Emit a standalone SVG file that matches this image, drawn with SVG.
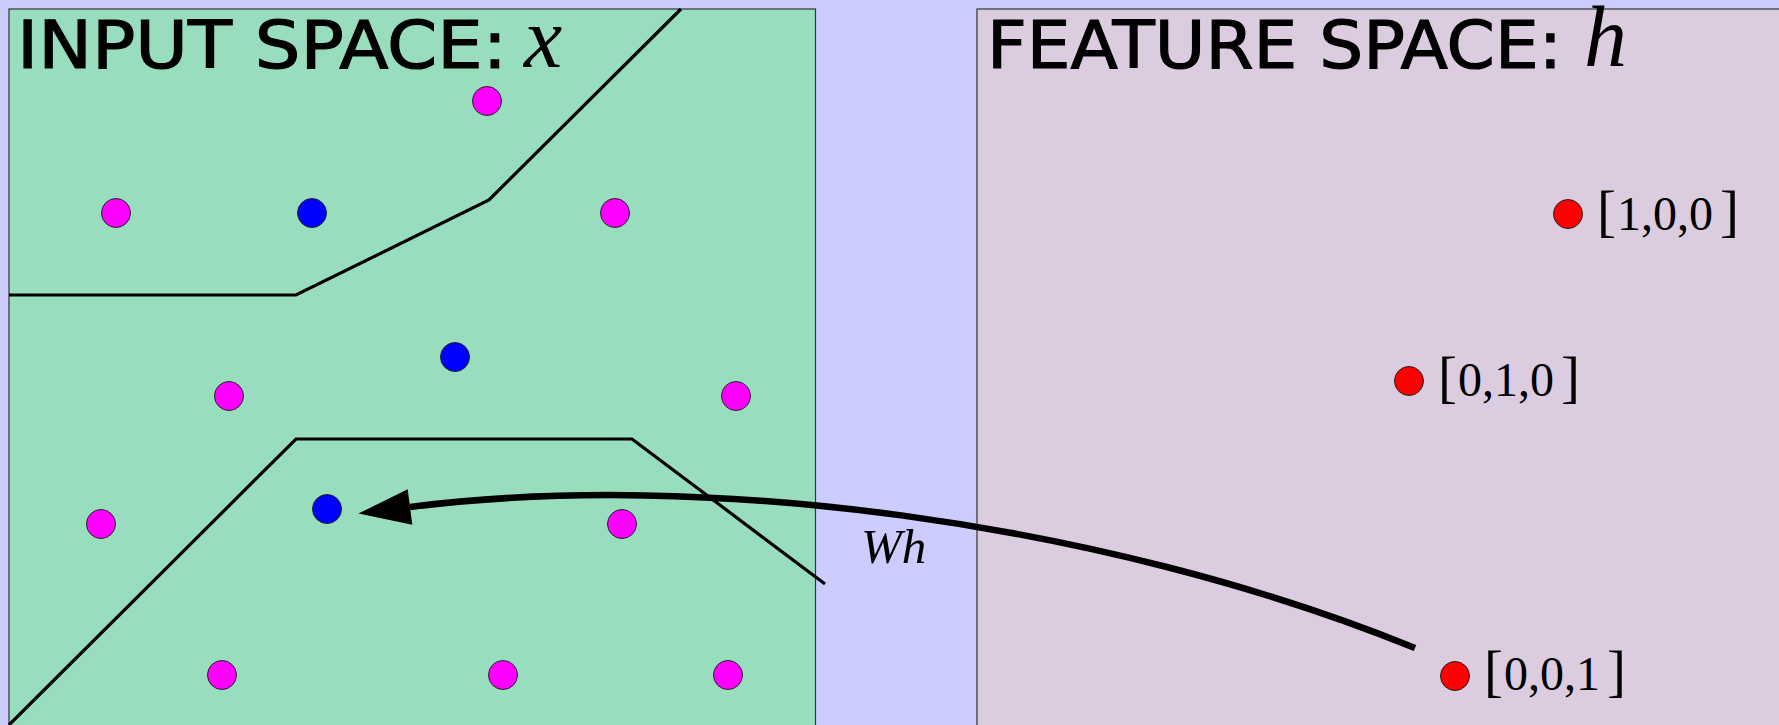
<svg xmlns="http://www.w3.org/2000/svg" width="1779" height="725" viewBox="0 0 1779 725">
  <style>
    .panel { stroke: #333; stroke-width: 1.2; }
    .title { font-family: "DejaVu Sans", "Noto Sans", sans-serif; font-size: 66px; fill: #000; stroke: #000; stroke-width: 1.2; }
    .var { font-family: "Liberation Serif", "DejaVu Serif", serif; font-style: italic; font-size: 86px; fill: #000; }
    .digits { font-family: "Liberation Serif", "DejaVu Serif", serif; font-size: 48px; fill: #000; }
    .brk { font-family: "Liberation Serif", "DejaVu Serif", serif; font-size: 57px; fill: #000; }
    .wh { font-family: "Liberation Serif", "DejaVu Serif", serif; font-style: italic; font-size: 49px; fill: #000; }
    .dot { stroke: #222; stroke-width: 1; }
    .neg { fill: #FF00FF; }
    .pos { fill: #0000FF; }
    .feat { fill: #FF0000; }
    .boundary { fill: none; stroke: #000; stroke-width: 3.2; stroke-linejoin: miter; }
    .map { fill: none; stroke: #000; stroke-width: 6.5; }
  </style>
  <defs>
    <marker id="head" markerUnits="userSpaceOnUse" markerWidth="60" markerHeight="44" viewBox="-2 -22 58 44" refX="0" refY="0" orient="auto">
      <path d="M0,-18 L52,0 L0,18 Z" fill="#000"/>
    </marker>
  </defs>

  <rect width="1779" height="725" fill="#CCCCFF"/>

  <!-- input space panel -->
  <g id="input-space">
    <rect class="panel" x="9" y="9" width="806.5" height="720" fill="#99DDBF"/>
    <text class="title" x="17" y="68" textLength="490" lengthAdjust="spacingAndGlyphs">INPUT SPACE:</text>
    <text class="var" x="524" y="67">x</text>
  </g>

  <!-- feature space panel -->
  <g id="feature-space">
    <rect class="panel" x="977" y="9" width="810" height="720" fill="#DCCCE0"/>
    <text class="title" x="987" y="68" textLength="575" lengthAdjust="spacingAndGlyphs">FEATURE SPACE:</text>
    <text class="var" x="1584" y="66">h</text>
  </g>

  <!-- decision boundaries -->
  <g id="boundaries">
    <polyline class="boundary" points="9,295 296,295 489,200 681,9"/>
    <polyline class="boundary" points="9,725 296,439 632,439 825,584"/>
  </g>

  <!-- input points -->
  <g id="input-points">
    <g id="n1"><circle class="dot neg" cx="487" cy="101" r="14.5"/></g>
    <g id="n2"><circle class="dot neg" cx="116" cy="213" r="14.5"/></g>
    <g id="n3"><circle class="dot neg" cx="615" cy="213" r="14.5"/></g>
    <g id="n4"><circle class="dot neg" cx="229" cy="396" r="14.5"/></g>
    <g id="n5"><circle class="dot neg" cx="736" cy="396" r="14.5"/></g>
    <g id="n6"><circle class="dot neg" cx="101" cy="524" r="14.5"/></g>
    <g id="n7"><circle class="dot neg" cx="622" cy="524" r="14.5"/></g>
    <g id="n8"><circle class="dot neg" cx="222" cy="675" r="14.5"/></g>
    <g id="n9"><circle class="dot neg" cx="503" cy="675" r="14.5"/></g>
    <g id="n10"><circle class="dot neg" cx="728" cy="675" r="14.5"/></g>
    <g id="p1"><circle class="dot pos" cx="312" cy="213" r="14.5"/></g>
    <g id="p2"><circle class="dot pos" cx="455" cy="357" r="14.5"/></g>
    <g id="p3"><circle class="dot pos" cx="327" cy="509" r="14.5"/></g>
  </g>

  <!-- feature points: bracket glyphs are set larger than the digits -->
  <g id="h100">
    <circle class="dot feat" cx="1568" cy="214" r="14.5"/>
    <text y="230"><tspan class="brk" x="1597">[</tspan><tspan class="digits" x="1617">1,0,0</tspan><tspan class="brk" x="1720">]</tspan></text>
  </g>
  <g id="h010">
    <circle class="dot feat" cx="1409" cy="381" r="14.5"/>
    <text y="396"><tspan class="brk" x="1438">[</tspan><tspan class="digits" x="1458">0,1,0</tspan><tspan class="brk" x="1561">]</tspan></text>
  </g>
  <g id="h001">
    <circle class="dot feat" cx="1455" cy="676" r="14.5"/>
    <text y="690"><tspan class="brk" x="1484">[</tspan><tspan class="digits" x="1504">0,0,1</tspan><tspan class="brk" x="1607">]</tspan></text>
  </g>

  <!-- mapping back to input space -->
  <g id="connectors">
    <path class="map" d="M1415,648 C1100,520 700,470 410,507" marker-end="url(#head)"/>
    <text class="wh" x="861" y="563">Wh</text>
  </g>
</svg>
